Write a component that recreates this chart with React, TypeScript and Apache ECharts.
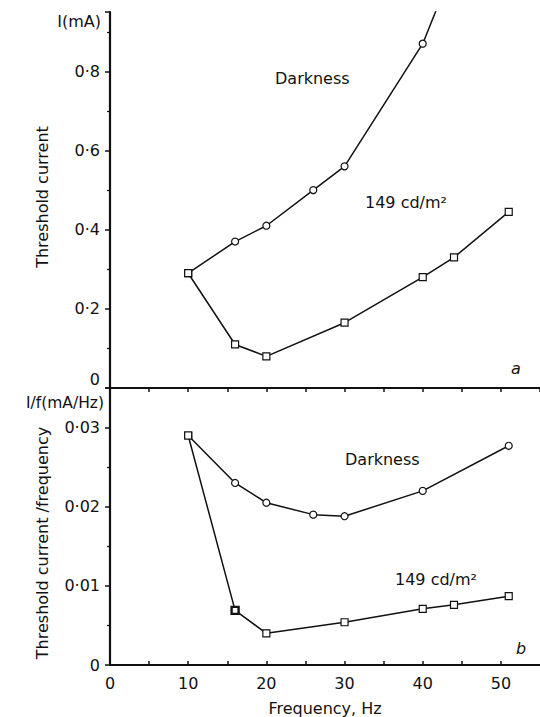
import React, { useEffect, useRef } from 'react';
import * as echarts from 'echarts';

// Panel a: threshold current I (mA) vs frequency (Hz)
const freqDark = [10, 16, 20, 26, 30, 40, 51];
const darkCurrent = [0.29, 0.37, 0.41, 0.5, 0.56, 0.87, 1.41];
const freqLight = [10, 16, 20, 30, 40, 44, 51];
const lightCurrent = [0.29, 0.11, 0.08, 0.165, 0.28, 0.33, 0.445];

// Panel b: threshold current / frequency (mA/Hz)
const darkPerFreq = [0.029, 0.023, 0.0205, 0.019, 0.0188, 0.022, 0.0277];
const lightPerFreq = [0.029, 0.0069, 0.004, 0.0054, 0.0071, 0.0076, 0.0087];

const xTickLabels = [0, 10, 20, 30, 40, 50];

const FONT = 'DejaVu Sans';
const INK = '#111';

const fmtDot = (v: number) => (v === 0 ? '0' : String(+v.toFixed(3)).replace('.', '·'));

function seriesData(xs: number[], ys: number[], firstRect: boolean, boldIdx = -1) {
  return xs.map((x, i) => {
    const item: any = { value: [x, ys[i]] };
    if (i === 0 && firstRect) item.symbol = 'rect';
    if (i === boldIdx) item.itemStyle = { borderWidth: 2.4 };
    return item;
  });
}

const lineBase = (name: string, symbol: string, axis: number, data: any[]) => ({
  name,
  type: 'line',
  xAxisIndex: axis,
  yAxisIndex: axis,
  data,
  symbol,
  symbolSize: 7,
  showAllSymbol: true,
  clip: true,
  lineStyle: { color: INK, width: 1.5 },
  itemStyle: { color: '#fff', borderColor: INK, borderWidth: 1.2 },
  emphasis: { disabled: true },
  z: 3,
});

export default function App() {
  const ref = useRef<HTMLDivElement>(null);
  useEffect(() => {
    document.body.style.margin = '0';
    const chart = echarts.init(ref.current!, null, { renderer: 'svg' });
    const axisLine = { show: true, lineStyle: { color: INK, width: 2.2 } };
    const txt = (text: string, x: number, y: number, extra: any = {}, rotation = 0) => ({
      type: 'text',
      x,
      y,
      rotation,
      silent: true,
      style: {
        text,
        fontSize: 16,
        fontFamily: FONT,
        fill: INK,
        align: 'left',
        verticalAlign: 'middle',
        ...extra,
      },
    });
    const yLabel = (showMin: boolean) => ({
      formatter: fmtDot,
      fontSize: 16,
      fontFamily: FONT,
      color: INK,
      margin: 10,
      showMaxLabel: false,
      showMinLabel: showMin,
    });
    chart.setOption({
      animation: false,
      backgroundColor: '#fff',
      grid: [
        { left: 110, top: 12, width: 432, height: 376 },
        { left: 110, top: 388, width: 432, height: 279 },
      ],
      xAxis: [
        {
          gridIndex: 0,
          type: 'value',
          min: 0,
          max: 55,
          interval: 5,
          axisLine,
          axisTick: { show: true, inside: false, length: 4, lineStyle: { color: INK, width: 1.5 } },
          axisLabel: { show: false },
          splitLine: { show: false },
        },
        {
          gridIndex: 1,
          type: 'value',
          min: 0,
          max: 55,
          interval: 5,
          axisLine,
          axisTick: { show: true, inside: true, length: 4, lineStyle: { color: INK, width: 1.5 } },
          axisLabel: {
            formatter: (v: number) => (xTickLabels.includes(v) ? String(v) : ''),
            fontSize: 16,
            fontFamily: FONT,
            color: INK,
            margin: 10,
            showMaxLabel: false,
          },
          splitLine: { show: false },
          name: 'Frequency, Hz',
          nameLocation: 'middle',
          nameGap: 35,
          nameTextStyle: { fontSize: 16, fontFamily: FONT, color: INK },
        },
      ],
      yAxis: [
        {
          gridIndex: 0,
          type: 'value',
          min: 0,
          max: 0.95,
          interval: 0.2,
          axisLine,
          axisTick: { show: true, inside: false, length: 5, lineStyle: { color: INK, width: 1.5 } },
          minorTick: { show: true, splitNumber: 2, length: 3, lineStyle: { color: INK, width: 1.2 } },
          axisLabel: yLabel(false),
          splitLine: { show: false },
        },
        {
          gridIndex: 1,
          type: 'value',
          min: 0,
          max: 0.035,
          interval: 0.01,
          axisLine,
          axisTick: { show: true, inside: false, length: 5, lineStyle: { color: INK, width: 1.5 } },
          minorTick: { show: true, splitNumber: 2, length: 3, lineStyle: { color: INK, width: 1.2 } },
          axisLabel: yLabel(true),
          splitLine: { show: false },
        },
      ],
      series: [
        lineBase('Darkness', 'circle', 0, seriesData(freqDark, darkCurrent, true)),
        lineBase('149 cd/m²', 'rect', 0, seriesData(freqLight, lightCurrent, false)),
        lineBase('Darkness b', 'circle', 1, seriesData(freqDark, darkPerFreq, true)),
        lineBase('149 cd/m² b', 'rect', 1, seriesData(freqLight, lightPerFreq, false, 1)),
      ],
      graphic: [
        txt('0', 100, 379, { align: 'right' }),
        txt('I(mA)', 101, 21, { align: 'right' }),
        txt('I/f(mA/Hz)', 104, 403, { align: 'right', fontSize: 15.5 }),
        txt('Threshold current', 42, 197, { align: 'center' }, Math.PI / 2),
        txt('Threshold current /frequency', 42, 543, { align: 'center' }, Math.PI / 2),
        txt('Darkness', 275, 78),
        txt('149 cd/m²', 365, 202),
        txt('a', 511, 368, { fontStyle: 'italic' }),
        txt('Darkness', 345, 459),
        txt('149 cd/m²', 395, 579),
        txt('b', 516, 648, { fontStyle: 'italic' }),
      ],
    });
    return () => chart.dispose();
  }, []);
  return <div ref={ref} style={{ width: 540, height: 717 }} />;
}
